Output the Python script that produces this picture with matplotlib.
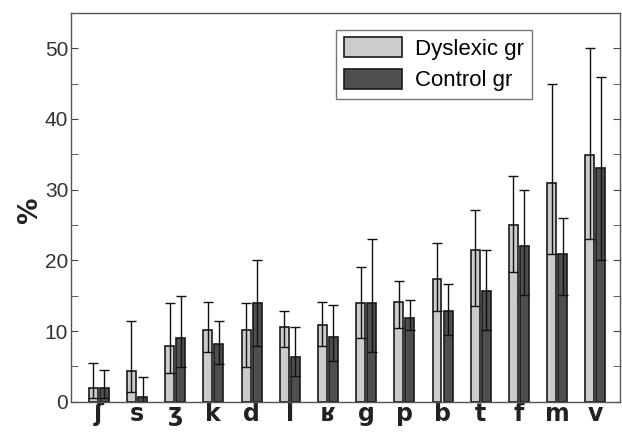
import numpy as np
import matplotlib.pyplot as plt
from matplotlib.ticker import MultipleLocator

phonemes = ['ʃ', 's', 'ʒ', 'k', 'd', 'l', 'ʁ', 'g', 'p', 'b', 't', 'f', 'm', 'v']

dys_mean = [2.0, 4.3, 7.9, 10.1, 10.1, 10.6, 10.8, 14.0, 14.1, 17.3, 21.4, 25.0, 31.0, 34.9]
dys_low = [0.5, 1.4, 4.0, 7.0, 4.9, 7.8, 7.9, 9.0, 10.5, 12.9, 13.5, 18.3, 20.9, 23.0]
dys_high = [5.5, 11.4, 14.0, 14.1, 14.0, 12.8, 14.1, 19.0, 17.1, 22.5, 27.1, 31.9, 45.0, 50.0]

ctl_mean = [2.0, 0.7, 9.0, 8.2, 14.0, 6.4, 9.2, 14.0, 11.9, 12.9, 15.6, 22.0, 20.9, 33.0]
ctl_low = [0.5, 0.0, 4.9, 5.3, 7.9, 3.6, 5.8, 7.0, 10.1, 9.5, 10.1, 15.1, 15.1, 20.0]
ctl_high = [4.5, 3.5, 15.0, 11.4, 20.0, 10.6, 13.7, 23.0, 14.4, 16.6, 21.4, 29.9, 26.0, 45.9]

x = np.arange(len(phonemes))
w = 0.235
off = 0.145

fig = plt.figure(figsize=(6.22, 4.32), dpi=100)
ax = fig.add_axes([0.114, 0.07, 0.883, 0.9])

dys_err = [np.array(dys_mean) - np.array(dys_low), np.array(dys_high) - np.array(dys_mean)]
ctl_err = [np.array(ctl_mean) - np.array(ctl_low), np.array(ctl_high) - np.array(ctl_mean)]

ax.bar(x - off, dys_mean, w, color='#cccccc', edgecolor='#1a1a1a', linewidth=1.2,
       yerr=dys_err, capsize=3.5, error_kw=dict(ecolor='#111111', elinewidth=1.0, capthick=1.0),
       label='Dyslexic gr')
ax.bar(x + off, ctl_mean, w, color='#4f4f4f', edgecolor='#1a1a1a', linewidth=1.2,
       yerr=ctl_err, capsize=3.5, error_kw=dict(ecolor='#111111', elinewidth=1.0, capthick=1.0),
       label='Control gr')

ax.set_xlim(-0.73, 13.65)
ax.set_ylim(0, 55)
ax.set_xticks(x)
ax.set_xticklabels(phonemes, fontsize=17, fontweight='bold', family='DejaVu Sans',
                   color='#222222')
ax.tick_params(axis='x', length=0, pad=0)
ax.yaxis.set_major_locator(MultipleLocator(10))
ax.yaxis.set_minor_locator(MultipleLocator(5))
ax.tick_params(axis='y', which='both', direction='in', length=5, right=True,
               labelsize=15, colors='#444444', labelcolor='#333333', pad=2)
for lab in ax.get_yticklabels():
    lab.set_family('Liberation Sans')
ax.set_ylabel('%', fontsize=19, fontweight='bold', color='#222222')
ax.yaxis.set_label_coords(-0.05, 0.49)

for s in ax.spines.values():
    s.set_color('#555555')
    s.set_linewidth(1.0)

leg = ax.legend(loc='upper left', bbox_to_anchor=(0.483, 0.957),
                prop={'family': 'Liberation Sans', 'size': 16},
                fancybox=False, edgecolor='#555555', handlelength=2.6, handleheight=1.0,
                borderpad=0.35, labelspacing=0.4, handletextpad=0.6, borderaxespad=0)
leg.get_frame().set_linewidth(1.0)

fig.savefig('out.png', dpi=100)
